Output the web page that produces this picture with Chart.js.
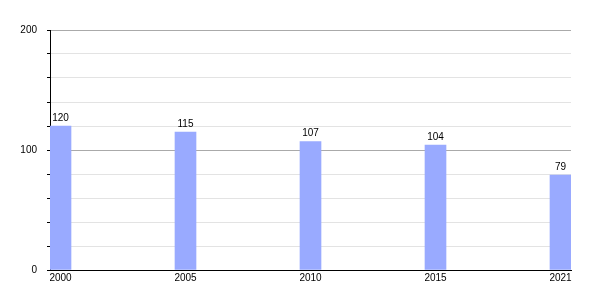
<!DOCTYPE html>
<html>
<head>
<meta charset="utf-8">
<script src="https://cdn.jsdelivr.net/npm/chart.js@4"></script>
<style>
  html, body { margin: 0; padding: 0; background: #fff; }
  #wrap { width: 600px; height: 300px; }
</style>
</head>
<body>
<div id="wrap"><canvas id="myChart" width="600" height="300"></canvas></div>
<script>
const years = ['2000', '2005', '2010', '2015', '2021'];
const values = [120, 115, 107, 104, 79];

Chart.defaults.font.family = '"Liberation Sans", Arial, sans-serif';
Chart.defaults.font.size = 10;
Chart.defaults.color = '#000';

// value above each bar
const barLabels = {
    id: 'barLabels',
    afterDatasetsDraw(chart) {
        const { ctx } = chart;
        const meta = chart.getDatasetMeta(0);
        ctx.save();
        ctx.font = '10px "Liberation Sans", Arial, sans-serif';
        ctx.fillStyle = '#000';
        ctx.textAlign = 'center';
        ctx.textBaseline = 'bottom';
        meta.data.forEach((bar, i) => {
            ctx.fillText(values[i], bar.x, bar.y - 3);
        });
        ctx.restore();
    }
};

const config = {
    type: 'bar',
    data: {
        datasets: [{
            data: values.map((v, i) => ({x: i, y: v})),
            backgroundColor: '#99aaff',
            borderWidth: 0,
            barThickness: 21
        }]
    },
    options: {
        responsive: false,
        animation: false,
        layout: { padding: { left: 0, right: 29, top: 30, bottom: 0 } },
        scales: {
            x: {
                type: 'linear',
                offset: false,
                min: -0.084,
                max: 4.084,
                afterBuildTicks: (scale) => { scale.ticks = years.map((_, i) => ({value: i})); },
                afterFit: (scale) => { scale.height = 30; },
                grid: { display: false, drawTicks: false, offset: false },
                border: { display: true, color: '#000', width: 1 },
                ticks: {
                    padding: 2,
                    autoSkip: false,
                    maxRotation: 0,
                    callback: (v) => years[v]
                }
            },
            y: {
                min: 0,
                max: 200,
                afterFit: (scale) => { scale.width = 50; },
                border: { display: true, color: '#000', width: 1 },
                grid: {
                    color: (ctx) => (ctx.tick && ctx.tick.value % 100 === 0) ? '#aaaaaa' : '#e3e3e3',
                    tickColor: '#000',
                    tickLength: 3,
                    drawTicks: true
                },
                ticks: {
                    stepSize: 20,
                    autoSkip: false,
                    padding: 10,
                    callback: (v) => (v % 100 === 0 ? v : '')
                }
            }
        },
        plugins: {
            legend: { display: false },
            tooltip: { enabled: false }
        }
    },
    plugins: [barLabels]
};

const myChart = new Chart(document.getElementById('myChart'), config);
</script>
</body>
</html>
